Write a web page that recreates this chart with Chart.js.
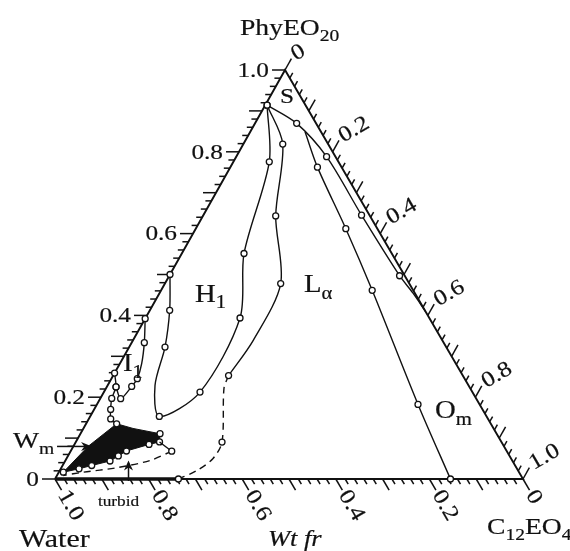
<!DOCTYPE html>
<html>
<head>
<meta charset="utf-8">
<title>PhyEO20 / C12EO4 / water phase diagram</title>
<script src="https://cdn.jsdelivr.net/npm/chart.js@4.4.1/dist/chart.umd.min.js"></script>
<style>
  html, body { margin: 0; padding: 0; background: #fff; }
  canvas { display: block; }
</style>
</head>
<body>
<canvas id="diagram" width="570" height="551"></canvas>
<script>
// Compositions are [PhyEO20, C12EO4] weight fractions; water is the remainder.
// A third entry of 1 marks a measured composition (drawn as an open circle).

const TRIANGLE = [[0, 0], [1, 0], [0, 1], [0, 0]];

// two-phase strip along the water / C12EO4 axis
const WATER_AXIS_STRIP = [[0, 0], [0, 0.2637]];

// boundary leaving S towards the C12EO4 side
const S_TO_OIL_SIDE = [
  [0.914, 0.004, 1], [0.8695, 0.089, 1], [0.788, 0.193, 1],
  [0.645, 0.338, 1], [0.497, 0.492, 1], [0.455, 0.541, 0], [0.41, 0.59, 0]
];

// boundary of the Om region
const OM_BOUNDARY = [
  [0.849, 0.117, 0], [0.7625, 0.186, 1], [0.612, 0.3206, 1],
  [0.4614, 0.451, 1], [0.1824, 0.686, 1], [0.0, 0.845, 1]
];

// H1 region: from the PhyEO20 axis round to S
const H1_BOUNDARY = [
  [0.5, 0.0, 1], [0.4125, 0.0423, 1], [0.3226, 0.0765, 1], [0.2289, 0.1012, 0],
  [0.153, 0.1477, 1], [0.2125, 0.2054, 1], [0.3936, 0.2019, 1],
  [0.5513, 0.1329, 1], [0.7755, 0.0767, 1], [0.914, 0.004, 1]
];

// L-alpha region, solid part from S
const LA_BOUNDARY = [
  [0.914, 0.004, 0], [0.8188, 0.0842, 1], [0.6433, 0.1554, 1],
  [0.4778, 0.2474, 1], [0.339, 0.257, 0], [0.2529, 0.2466, 1]
];

// L-alpha region, uncertain continuation to the water / C12EO4 axis
const LA_BOUNDARY_DASHED = [
  [0.2529, 0.2466, 0], [0.2215, 0.2522, 0], [0.0903, 0.3125, 1],
  [0.0502, 0.313, 0], [0.0208, 0.293, 0], [0.0, 0.2637, 1]
];

// I1 region
const I1_BOUNDARY = [
  [0.392, 0.0, 1], [0.3334, 0.027, 1], [0.282, 0.0466, 0], [0.2453, 0.0553, 1],
  [0.2264, 0.0526, 1], [0.1963, 0.0438, 1], [0.2252, 0.0197, 1]
];

// series of compositions from the PhyEO20 axis down to Wm
const WM_APPROACH = [
  [0.259, 0.0, 1], [0.2252, 0.0197, 1], [0.197, 0.0244, 1],
  [0.170, 0.0354, 1], [0.147, 0.0468, 1], [0.135, 0.0654, 1]
];

// Wm region (filled)
const WM_REGION = [
  [0.135, 0.0654, 0], [0.1236, 0.106, 0], [0.1107, 0.170, 1], [0.0906, 0.1788, 1],
  [0.0845, 0.1594, 1], [0.0685, 0.119, 1], [0.0563, 0.1076, 1], [0.044, 0.0959, 1],
  [0.033, 0.0622, 1], [0.025, 0.039, 1], [0.0166, 0.0096, 1], [0.0796, 0.0314, 0],
  [0.135, 0.0654, 0]
];

// turbid region edge
const TURBID_EDGE = [[0.0906, 0.1788, 0], [0.068, 0.216, 1]];
const TURBID_EDGE_DASHED = [
  [0.068, 0.216, 0], [0.0453, 0.181, 0], [0.0274, 0.118, 0],
  [0.0166, 0.052, 0], [0.0086, 0.0135, 0]
];

// axis ticks
const LABELLED_TICKS = [0, 0.2, 0.4, 0.6, 0.8, 1.0];
const MINOR_STEP = 0.02;
const MAJOR_EVERY = 5;   // every 5th minor step (0.1) gets a long tick

// ---------------------------------------------------------------------------

const APEX_X = 0.4915;          // horizontal position of the PhyEO20 apex along the base
const INK = '#111';
const SERIF = '"Liberation Serif", "Times New Roman", serif';
const STRETCH = 1.15;           // text is set slightly wide
const POINT_R = 3;

const toXY = ([p, c, m]) => ({ x: c + APEX_X * p, y: p, m: m || 0 });

function boundary(points, extra) {
  return Object.assign({
    data: points.map(toXY),
    showLine: true,
    borderColor: INK,
    borderWidth: 1.4,
    tension: 0.3,
    fill: false,
    clip: false,
    pointRadius: ctx => (ctx.raw && ctx.raw.m ? POINT_R : 0),
    pointHoverRadius: ctx => (ctx.raw && ctx.raw.m ? POINT_R : 0),
    pointBackgroundColor: '#fff',
    pointBorderColor: INK,
    pointBorderWidth: 1.3,
    order: 1
  }, extra || {});
}

function fontOf(size, italic) {
  return (italic ? 'italic ' : '') + size + 'px ' + SERIF;
}

// text with optional subscripts: parts = [[text, isSub], ...]
function rich(ctx, parts, x, y, size, opt) {
  opt = opt || {};
  const subSize = Math.round(size * 0.72);
  ctx.save();
  ctx.translate(x, y);
  if (opt.angle) ctx.rotate(opt.angle);
  ctx.scale(STRETCH, 1);
  ctx.fillStyle = INK;
  ctx.strokeStyle = INK;
  ctx.lineWidth = 0.2;
  ctx.textBaseline = opt.baseline || 'alphabetic';
  ctx.textAlign = 'left';
  let w = 0;
  for (const [t, sub] of parts) {
    ctx.font = fontOf(sub ? subSize : size, opt.italic);
    w += ctx.measureText(t).width;
  }
  let cx = opt.align === 'center' ? -w / 2 : opt.align === 'right' ? -w : 0;
  for (const [t, sub] of parts) {
    ctx.font = fontOf(sub ? subSize : size, opt.italic);
    const dy = sub ? size * 0.25 : 0;
    ctx.fillText(t, cx, dy);
    ctx.strokeText(t, cx, dy);
    cx += ctx.measureText(t).width;
  }
  ctx.restore();
}

function arrow(ctx, from, to, head, half) {
  const dx = to.X - from.X, dy = to.Y - from.Y, L = Math.hypot(dx, dy);
  const ux = dx / L, uy = dy / L;
  ctx.beginPath();
  ctx.moveTo(from.X, from.Y);
  ctx.lineTo(to.X - ux * head * 0.6, to.Y - uy * head * 0.6);
  ctx.stroke();
  ctx.beginPath();
  ctx.moveTo(to.X, to.Y);
  ctx.lineTo(to.X - ux * head - uy * half, to.Y - uy * head + ux * half);
  ctx.lineTo(to.X - ux * head * 0.7, to.Y - uy * head * 0.7);
  ctx.lineTo(to.X - ux * head + uy * half, to.Y - uy * head - ux * half);
  ctx.closePath();
  ctx.fill();
}

const ternaryFrame = {
  id: 'ternaryFrame',
  beforeDatasetsDraw(chart) {
    const ctx = chart.ctx;
    const xs = chart.scales.x, ys = chart.scales.y;
    const pix = (p, c) => ({ X: xs.getPixelForValue(c + APEX_X * p), Y: ys.getPixelForValue(p) });
    const W = pix(0, 0), C = pix(0, 1), P = pix(1, 0);
    const unit = (a, b) => { const dx = b.X - a.X, dy = b.Y - a.Y, L = Math.hypot(dx, dy); return { x: dx / L, y: dy / L }; };
    const dLeft = { x: -1, y: 0 };
    const dBottom = unit(P, C);
    const dRight = unit(W, P);
    const rightTextAngle = Math.atan2(-dBottom.x, dBottom.y);
    const bottomTextAngle = Math.atan2(dBottom.y, dBottom.x);

    ctx.save();
    ctx.strokeStyle = INK;
    ctx.lineWidth = 1.5;
    const steps = Math.round(1 / MINOR_STEP);
    const tick = (o, d, len) => {
      ctx.beginPath();
      ctx.moveTo(o.X, o.Y);
      ctx.lineTo(o.X + d.x * len, o.Y + d.y * len);
      ctx.stroke();
      return { X: o.X + d.x * len, Y: o.Y + d.y * len };
    };
    const labelOf = t => (t === 0 ? '0' : t.toFixed(1));
    for (let i = 0; i <= steps; i++) {
      const t = i * MINOR_STEP;
      const len = i % MAJOR_EVERY === 0 ? 13 : 6;
      const labelled = LABELLED_TICKS.some(v => Math.abs(v - t) < 1e-6);

      // PhyEO20 fraction, left side
      const eL = tick(pix(t, 0), dLeft, len);
      // water fraction, base
      const eB = tick(pix(0, 1 - t), dBottom, len);
      // C12EO4 fraction, right side
      const eR = tick(pix(1 - t, t), dRight, len);

      if (labelled) {
        const txt = labelOf(Math.round(t * 10) / 10);
        rich(ctx, [[txt]], eL.X - 3, eL.Y + 1, 22, { align: 'right', baseline: 'middle' });
        rich(ctx, [[txt]], eB.X + dBottom.x * 2, eB.Y + dBottom.y * 2, 22,
             { angle: bottomTextAngle, baseline: 'middle' });
        rich(ctx, [[txt]], eR.X + dRight.x * 3, eR.Y + dRight.y * 3, 22,
             { angle: rightTextAngle, baseline: 'middle' });
      }
    }
    ctx.restore();
  },
  afterDatasetsDraw(chart) {
    const ctx = chart.ctx;
    const xs = chart.scales.x, ys = chart.scales.y;
    const pix = (p, c) => ({ X: xs.getPixelForValue(c + APEX_X * p), Y: ys.getPixelForValue(p) });
    const W = pix(0, 0), C = pix(0, 1), P = pix(1, 0);

    ctx.save();
    // vertex names
    rich(ctx, [['PhyEO'], ['20', true]], P.X - 45, P.Y - 35, 24);
    rich(ctx, [['Water']], W.X - 36, W.Y + 68, 26);
    rich(ctx, [['C'], ['12', true], ['EO'], ['4', true]], C.X - 36, C.Y + 55, 24);
    const mid = pix(0, 0.455);
    rich(ctx, [['Wt fr']], mid.X, mid.Y + 67, 23, { italic: true });

    // phase regions
    const region = (parts, p, c, size) => { const a = pix(p, c); rich(ctx, parts, a.X, a.Y, size); };
    region([['S']], 0.919, 0.029, 22);
    region([['H'], ['1', true]], 0.4333, 0.0862, 25);
    region([['L'], ['α', true]], 0.4565, 0.3077, 25);
    region([['I'], ['1', true]], 0.263, 0.016, 25);
    region([['O'], ['m', true]], 0.148, 0.739, 25);

    // Wm pointer
    ctx.strokeStyle = INK;
    ctx.fillStyle = INK;
    ctx.lineWidth = 1.5;
    const wmTip = pix(0.0796, 0.040);
    const wmTail = { X: wmTip.X - 35, Y: wmTip.Y };
    arrow(ctx, wmTail, wmTip, 11, 4.5);
    rich(ctx, [['W'], ['m', true]], wmTail.X - 44, wmTip.Y + 2, 24);

    // turbid pointer
    const tTip = pix(0.0453, 0.1348);
    const tTail = { X: tTip.X, Y: W.Y + 2 };
    arrow(ctx, tTail, tTip, 10, 4.5);
    rich(ctx, [['turbid']], tTip.X - 10, W.Y + 27, 15, { align: 'center' });
    ctx.restore();
  }
};

new Chart(document.getElementById('diagram'), {
  type: 'scatter',
  data: {
    datasets: [
      boundary(S_TO_OIL_SIDE),
      boundary(OM_BOUNDARY),
      boundary(H1_BOUNDARY),
      boundary(LA_BOUNDARY),
      boundary(LA_BOUNDARY_DASHED, { borderDash: [7, 5] }),
      boundary(I1_BOUNDARY, { tension: 0.25 }),
      boundary(WM_APPROACH, { tension: 0.2 }),
      boundary(TURBID_EDGE, { tension: 0 }),
      boundary(TURBID_EDGE_DASHED, { borderDash: [7, 5] }),
      boundary(WM_REGION, { tension: 0, fill: 'shape', backgroundColor: INK, borderWidth: 1, order: 2 }),
      boundary(WATER_AXIS_STRIP, { tension: 0, borderWidth: 3.4, order: 3 }),
      boundary(TRIANGLE, { tension: 0, borderWidth: 1.9, order: 3 })
    ]
  },
  options: {
    responsive: false,
    devicePixelRatio: 1,
    animation: false,
    events: [],
    layout: { padding: { left: 55, right: 47, top: 70, bottom: 72 } },
    scales: {
      x: { type: 'linear', min: 0, max: 1, display: false },
      y: { type: 'linear', min: 0, max: 1, display: false }
    },
    plugins: {
      legend: { display: false },
      tooltip: { enabled: false }
    }
  },
  plugins: [ternaryFrame]
});
</script>
</body>
</html>
